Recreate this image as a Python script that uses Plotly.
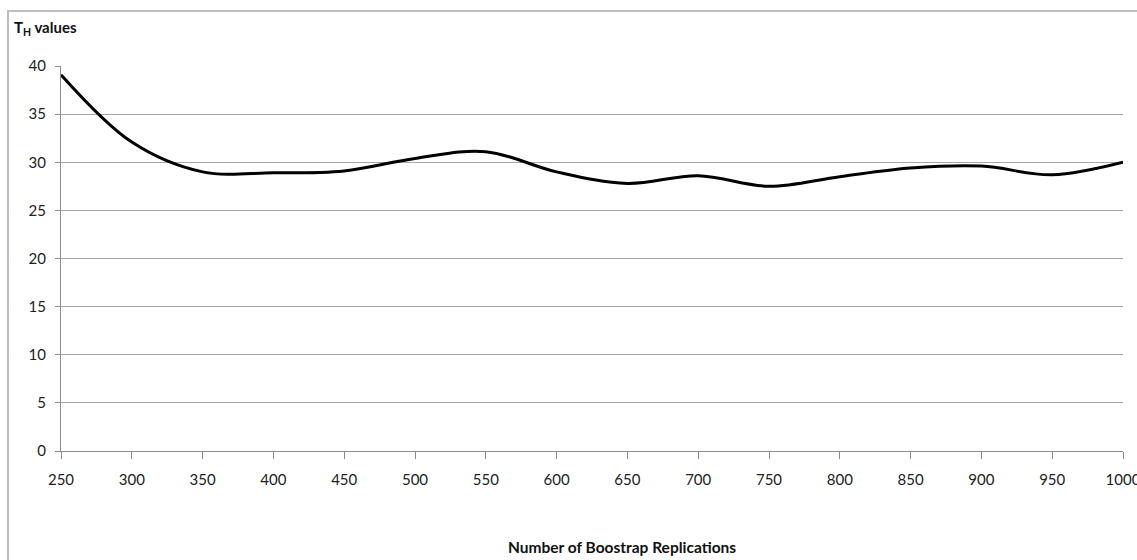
import plotly.graph_objects as go

# Number of bootstrap replications and the resulting T_H statistic
replications = [250, 300, 350, 400, 450, 500, 550, 600, 650, 700, 750, 800, 850, 900, 950, 1000]
th_values = [39.1, 32.1, 29.0, 28.9, 29.1, 30.4, 31.1, 29.0, 27.8, 28.6, 27.5, 28.5, 29.4, 29.6, 28.7, 30.0]

x_ticks = list(range(250, 1001, 50))
y_ticks = list(range(0, 41, 5))

W, H = 1137, 560
ML, MR, MT, MB = 61, 14, 66, 109
PW, PH = W - ML - MR, H - MT - MB

FONT = "Lato, 'Open Sans', sans-serif"

fig = go.Figure()
fig.add_trace(go.Scatter(
    x=replications, y=th_values, mode="lines",
    line=dict(color="#000000", width=3, shape="spline", smoothing=1.0),
    showlegend=False, hoverinfo="x+y",
))


def px_x(p):
    return (p - ML) / PW


def px_y(p):
    return (H - MB - p) / PH


fig.update_layout(
    width=W, height=H,
    margin=dict(l=ML, r=MR, t=MT, b=MB, autoexpand=False),
    paper_bgcolor="white", plot_bgcolor="white",
    font=dict(family=FONT, size=15, color="#222222"),
    xaxis=dict(
        range=[250, 1000], tickvals=x_ticks, ticktext=[str(v) for v in x_ticks],
        showgrid=False, zeroline=False, automargin=False,
        showline=True, linecolor="#8c8c8c", linewidth=1,
        ticks="outside", ticklen=7, tickcolor="#8c8c8c",
        ticklabelstandoff=8, ticklabeloverflow="allow",
        tickfont=dict(size=15, family=FONT, color="#222222"),
    ),
    yaxis=dict(
        range=[0, 40], tickvals=y_ticks, ticktext=[str(v) for v in y_ticks],
        showgrid=True, gridcolor="#a6a6a6", gridwidth=1, zeroline=False, automargin=False,
        showline=True, linecolor="#8c8c8c", linewidth=1,
        ticks="outside", ticklen=5, tickcolor="#8c8c8c",
        ticklabelstandoff=6, ticklabeloverflow="allow",
        tickfont=dict(size=15, family=FONT, color="#222222"),
    ),
    shapes=[
        # outer chart frame (left and top edges visible)
        dict(type="rect", xref="paper", yref="paper",
             x0=px_x(8), x1=px_x(W + 20), y0=px_y(H + 20), y1=px_y(11),
             line=dict(color="#bdbdbd", width=2), fillcolor="rgba(0,0,0,0)", layer="below"),
    ],
    annotations=[
        dict(text="<b>T<sub>H</sub> values</b>", xref="paper", yref="paper",
             x=px_x(12), y=px_y(28), xanchor="left", yanchor="middle",
             showarrow=False, font=dict(size=15, family=FONT, color="#111111")),
        dict(text="<b>Number of Boostrap Replications</b>", xref="paper", yref="paper",
             x=px_x(622), y=px_y(547), xanchor="center", yanchor="middle",
             showarrow=False, font=dict(size=15.5, family=FONT, color="#111111")),
    ],
)

fig.write_html("out.html")
